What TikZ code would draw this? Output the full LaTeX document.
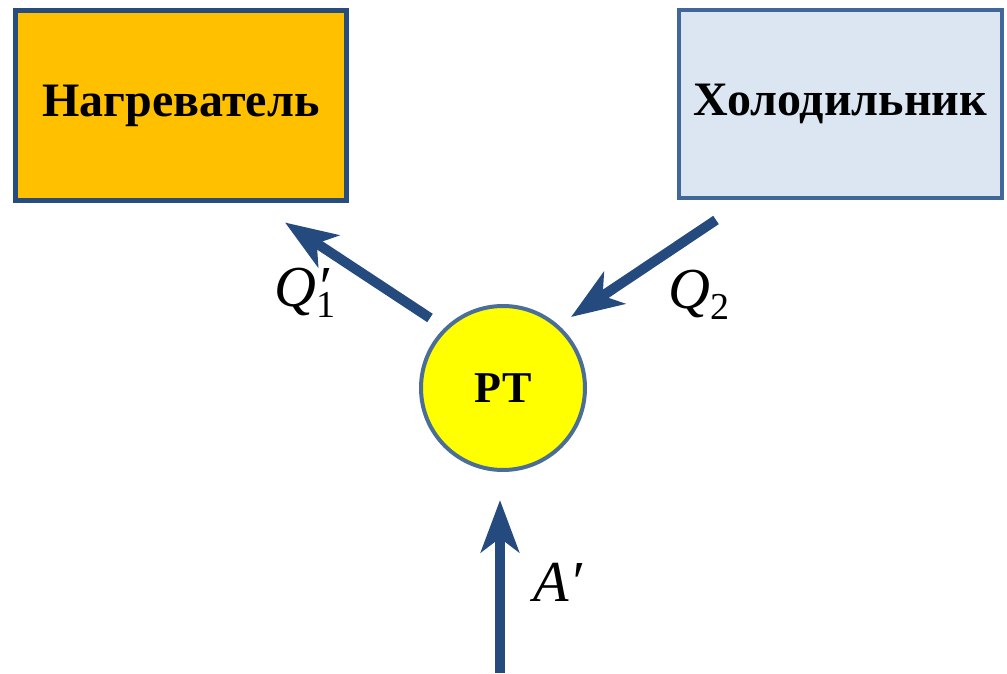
\documentclass[tikz,border=0pt]{standalone}
\usepackage{fontspec}
\setmainfont{Liberation Serif}
\usetikzlibrary{arrows.meta, positioning, calc}
\definecolor{heatFill}{HTML}{FFC000}
\definecolor{heatLine}{HTML}{264D7E}
\definecolor{coolFill}{HTML}{DCE6F2}
\definecolor{coolLine}{HTML}{41669A}
\definecolor{rtFill}{HTML}{FFFF00}
\definecolor{rtLine}{HTML}{4A6E98}
\definecolor{flowBlue}{HTML}{254A7E}
\newcommand{\symlab}[3]{\textit{#1}\rlap{\textit{#2}}{\fontsize{38}{38}\selectfont\raisebox{-0.28em}{\upshape #3}}}
\tikzset{
  reservoir/.style={rectangle, inner sep=0pt, font=\fontsize{48}{52}\selectfont\bfseries},
  flow/.style={draw=flowBlue, line width=10pt, -{Stealth[length=52pt, width=38pt, inset=14pt]}},
  qlabel/.style={inner sep=0pt, font=\fontsize{58}{60}\selectfont\itshape},
}

\begin{document}
\begin{tikzpicture}[x=1pt, y=1pt]
\useasboundingbox (0,0) rectangle (1007,673);
% reservoirs and working body
\node[reservoir, draw=heatLine, line width=5pt, fill=heatFill,
      minimum width=331pt, minimum height=190pt] (heater) at (181,567.5) {\raisebox{4pt}{Нагреватель}};
\node[reservoir, draw=coolLine, line width=4pt, fill=coolFill,
      minimum width=323pt, minimum height=188pt] (cooler) at (840.5,569) {\raisebox{4pt}{Холодильник}};
\node[circle, draw=rtLine, line width=4pt, fill=rtFill, minimum size=164pt, inner sep=0pt,
      font=\fontsize{44}{48}\selectfont\bfseries] (rt) at (503,285) {РТ};
% arrow ends
\coordinate (q1tail) at ($(rt.center)+(-73,70)$);
\coordinate (q1head) at ($(heater.south)+(104,-19.5)$);
\coordinate (q2tail) at ($(cooler.south)+(-124.5,-20)$);
\coordinate (q2head) at ($(rt.center)+(68,71)$);
\coordinate (atail) at (500,0);
\coordinate (ahead) at ($(rt.south)+(-3,-28)$);
\draw[flow] (q1tail) -- (q1head);
\draw[flow] (q2tail) -- (q2head);
\draw[flow] (atail) -- (ahead);
% labels
\node[qlabel] (q1lab) at (305,380) {\symlab{Q}{′}{1}};
\node[qlabel] (q2lab) at (699,378) {\symlab{Q}{}{2}};
\node[qlabel] (alab) at (558,91) {A′};
\end{tikzpicture}
\end{document}
